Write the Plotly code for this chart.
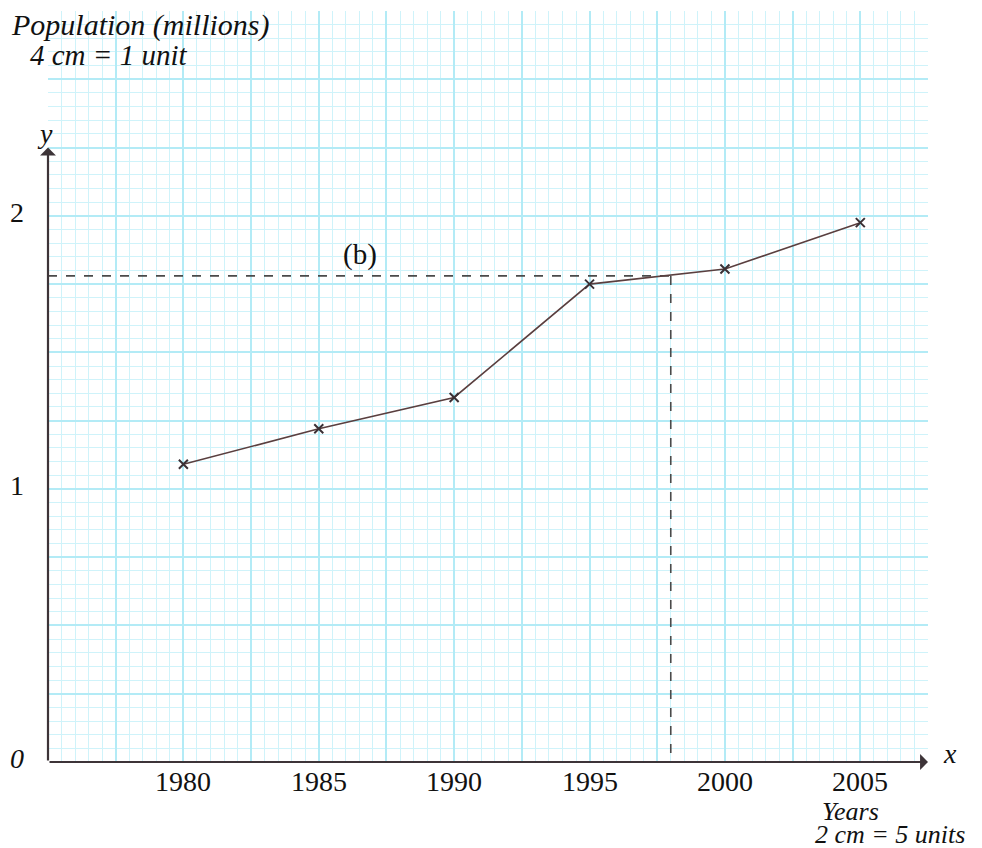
import plotly.graph_objects as go

# ---- data ----
years = [1980, 1985, 1990, 1995, 2000, 2005]
population = [1.09, 1.22, 1.335, 1.75, 1.805, 1.975]
year_ticks = [1980, 1985, 1990, 1995, 2000, 2005]
year_tick_labels = ["1980", "1985", "1990", "1995", "2000", "2005"]
pop_ticks = [0, 1, 2]
pop_tick_labels = ["0", "1", "2"]
read_year = 1998
read_pop = 1.78

X0, X1 = 1975, 2007.5
Y0, Y1 = 0, 2.75
Y_ARROW = 2.25

FONT = "Liberation Serif"
INK = "#3d3438"
LINE = "#5a3f3f"

# page offset (browser body margin)
OFF = 8
W, H = 982 - OFF, 848 - OFF
PL, PT, PW, PH = 48, 11, 880, 751  # plot area in window pixels

fig = go.Figure()

# dashed reading lines
fig.add_trace(go.Scatter(x=[X0, read_year], y=[read_pop, read_pop], mode="lines",
                         line=dict(color="#4a4a4a", width=1.6, dash="dash"),
                         hoverinfo="skip", showlegend=False))
fig.add_trace(go.Scatter(x=[read_year, read_year], y=[read_pop, 0], mode="lines",
                         line=dict(color="#4a4a4a", width=1.6, dash="dash"),
                         hoverinfo="skip", showlegend=False))

# data line
fig.add_trace(go.Scatter(x=years, y=population, mode="lines+markers",
                         line=dict(color=LINE, width=1.6),
                         marker=dict(symbol="x-thin", size=9, line=dict(color="#3a3035", width=2)),
                         showlegend=False))

ann = []
# axis arrows
ann.append(dict(x=X1, y=0, ax=X0, ay=0, xref="x", yref="y", axref="x", ayref="y",
                showarrow=True, arrowhead=1, arrowsize=1.2, arrowwidth=2.2, arrowcolor=INK, text=""))
ann.append(dict(x=X0, y=Y_ARROW, ax=X0, ay=0, xref="x", yref="y", axref="x", ayref="y",
                showarrow=True, arrowhead=1, arrowsize=1.2, arrowwidth=2.2, arrowcolor=INK, text=""))

# x tick labels
for v, t in zip(year_ticks, year_tick_labels):
    ann.append(dict(x=v, y=0, xref="x", yref="y", text=t, showarrow=False,
                    yanchor="top", yshift=-2, font=dict(family=FONT, size=28, color="#111")))
# y tick labels
for v, t in zip(pop_ticks, pop_tick_labels):
    txt = "<i>0</i>" if t == "0" else t
    ann.append(dict(x=(17 - PL) / PW, y=v, xref="paper", yref="y", text=txt, showarrow=False,
                    xanchor="center", yanchor="middle", yshift=4 if t == "0" else 3,
                    font=dict(family=FONT, size=28, color="#111")))

def px(xp, yp):
    return (xp - PL) / PW, (PT + PH - yp) / PH

texts = [
    ("<i>Population (millions)</i>", 10, 25, 30),
    ("<i>4 cm = 1 unit</i>", 29, 55, 29),
    ("<i>y</i>", 36, 133, 28),
    ("<i>x</i>", 942, 753, 28),
    ("<i>Years</i>", 821, 811, 26),
    ("<i>2 cm = 5 units</i>", 814, 834, 26),
    ("(b)", 342, 255, 29),
]
for t, xp, yp, fs in texts:
    xx, yy = px(xp, yp)
    ann.append(dict(x=xx, y=yy, xref="paper", yref="paper", text=t, showarrow=False,
                    xanchor="left", yanchor="middle", borderpad=0,
                    font=dict(family=FONT, size=fs, color="#111")))

fig.update_layout(
    width=W, height=H,
    margin=dict(l=PL - OFF, r=W - (PL - OFF) - PW, t=PT - OFF, b=H - (PT - OFF) - PH),
    paper_bgcolor="white", plot_bgcolor="white",
    annotations=ann,
    xaxis=dict(range=[X0, X1], tick0=X0, dtick=2.5, showgrid=True, gridcolor="#b3ebf6",
               gridwidth=1.8, showticklabels=False, zeroline=False, showline=False, ticks="",
               minor=dict(tick0=X0, dtick=0.5, showgrid=True, gridcolor="#cff3fa", gridwidth=1.3)),
    yaxis=dict(range=[Y0, Y1], tick0=0, dtick=0.25, showgrid=True, gridcolor="#b3ebf6",
               gridwidth=1.8, showticklabels=False, zeroline=False, showline=False, ticks="",
               minor=dict(tick0=0, dtick=0.05, showgrid=True, gridcolor="#cff3fa", gridwidth=1.3)),
)

fig.write_html("out.html")
